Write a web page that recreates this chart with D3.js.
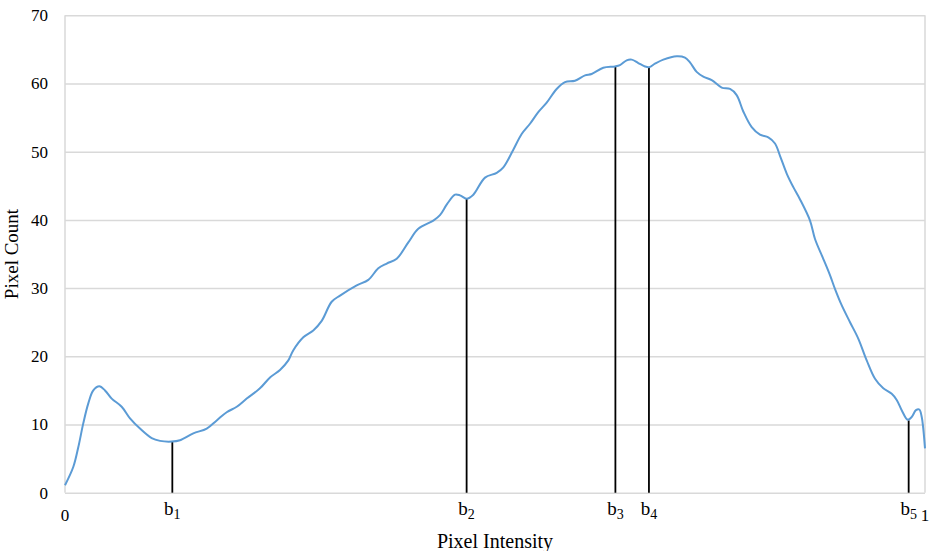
<!DOCTYPE html>
<html>
<head>
<meta charset="utf-8">
<script src="https://cdn.jsdelivr.net/npm/d3@7"></script>
<style>
  body { margin: 0; background: #fff; }
  text { font-family: "Liberation Serif", "Times New Roman", serif; fill: #000; }
</style>
</head>
<body>
<svg id="chart" width="932" height="551"></svg>
<script>
// histogram curve (intensity 0..1, count)
const intensity = [0, 0.0097, 0.0155, 0.0213, 0.0271, 0.0329, 0.0399, 0.0465, 0.0543, 0.0659,
  0.0756, 0.0872, 0.1008, 0.1105, 0.1241, 0.1337, 0.1492, 0.1648, 0.1764, 0.1880,
  0.1997, 0.2113, 0.2267, 0.2384, 0.2500, 0.2597, 0.2655, 0.2771, 0.2887, 0.2985,
  0.3101, 0.3198, 0.3392, 0.3527, 0.3643, 0.3741, 0.3857, 0.3992, 0.4108, 0.4283,
  0.4360, 0.4442, 0.4535, 0.4593, 0.4671, 0.4748, 0.4884, 0.5020, 0.5097, 0.5213,
  0.5310, 0.5407, 0.5503, 0.5601, 0.5717, 0.5814, 0.5930, 0.6047, 0.6124, 0.6259,
  0.6395, 0.6453, 0.6531, 0.6590, 0.6666, 0.6744, 0.6794, 0.6860, 0.6957, 0.7113,
  0.7209, 0.7267, 0.7345, 0.7422, 0.7520, 0.7636, 0.7733, 0.7810, 0.7887, 0.7985,
  0.8081, 0.8178, 0.8256, 0.8314, 0.8392, 0.8469, 0.8547, 0.8663, 0.8721, 0.8817,
  0.8895, 0.8953, 0.9031, 0.9128, 0.9224, 0.9322, 0.9419, 0.9515, 0.9613, 0.9671,
  0.9729, 0.9799, 0.9845, 0.9895, 0.9934, 0.9962, 0.9980, 1.0];
const pixelCount = [1.1, 3.8, 6.7, 10.2, 13.1, 15.0, 15.6, 15.0, 13.8, 12.6,
  10.9, 9.4, 8.0, 7.6, 7.5, 7.7, 8.7, 9.4, 10.6, 11.8,
  12.6, 13.8, 15.3, 16.9, 18.0, 19.4, 20.9, 22.8, 23.8, 25.2,
  28.0, 28.9, 30.4, 31.2, 32.9, 33.6, 34.3, 36.7, 38.7, 39.9,
  40.7, 42.3, 43.7, 43.6, 43.1, 43.7, 46.2, 46.9, 47.7, 50.3,
  52.6, 54.1, 55.8, 57.2, 59.2, 60.2, 60.4, 61.2, 61.4, 62.3,
  62.5, 62.7, 63.4, 63.5, 63.0, 62.5, 62.4, 62.9, 63.5, 64.0,
  63.8, 63.1, 61.7, 61.0, 60.5, 59.4, 59.2, 58.3, 55.9, 53.6,
  52.5, 52.1, 51.2, 49.4, 46.8, 44.8, 43.0, 39.9, 37.2, 34.3,
  31.9, 29.9, 27.5, 25.0, 22.6, 19.4, 16.7, 15.3, 14.5, 13.6,
  12.1, 10.7, 11.1, 12.1, 12.2, 11.1, 9.4, 6.5];

// threshold markers b1..b5
const boundaryIndex = ["1", "2", "3", "4", "5"];
const boundaryX = [0.1248, 0.467, 0.640, 0.679, 0.981];
const boundaryCount = [7.5, 43.1, 62.5, 62.4, 10.6];

const yTicks = [0, 10, 20, 30, 40, 50, 60, 70];
const xTickValues = [0, 1];
const xTickLabels = ["0", "1"];

const margin = {top: 15.3, left: 65, right: 7, bottom: 58.3};
const width = 932 - margin.left - margin.right,
      height = 551 - margin.top - margin.bottom;

const svg = d3.select("#chart");
const g = svg.append("g").attr("transform", `translate(${margin.left},${margin.top})`);

const x = d3.scaleLinear().domain([0, 1]).range([0, width]);
const y = d3.scaleLinear().domain([0, 70]).range([height, 0]);

// gridlines + y labels
const yAxis = g.append("g")
  .call(d3.axisLeft(y).tickValues(yTicks).tickSize(-width).tickPadding(17).tickFormat(d3.format("d")));
yAxis.select(".domain").remove();
yAxis.selectAll(".tick line").attr("stroke", "#d9d9d9").attr("stroke-width", 1.5);
yAxis.selectAll(".tick text").style("font-size", "17px")
  .style("font-family", '"Liberation Serif", serif').attr("fill", "#000");

// left / right frame lines
g.append("line").attr("x1", 0).attr("x2", 0).attr("y1", 0).attr("y2", height)
  .attr("stroke", "#d9d9d9").attr("stroke-width", 1.5);
g.append("line").attr("x1", width).attr("x2", width).attr("y1", 0).attr("y2", height)
  .attr("stroke", "#d9d9d9").attr("stroke-width", 1.5);

// x labels 0 and 1
g.selectAll(".xlab")
  .data(xTickValues)
  .enter().append("text")
    .attr("x", d => x(d))
    .attr("y", height + 28.3)
    .attr("text-anchor", "middle")
    .style("font-size", "17px")
    .text((d, i) => xTickLabels[i]);

// boundary lines
g.selectAll(".bline")
  .data(boundaryX)
  .enter().append("line")
    .attr("x1", d => x(d)).attr("x2", d => x(d))
    .attr("y1", y(0))
    .attr("y2", (d, i) => y(boundaryCount[i]))
    .attr("stroke", "#000")
    .attr("stroke-width", 1.8);

// curve
const line = d3.line()
  .x((d, i) => x(intensity[i]))
  .y(d => y(d))
  .curve(d3.curveCatmullRom);

g.append("path")
  .datum(pixelCount)
  .attr("d", line)
  .attr("fill", "none")
  .attr("stroke", "#5b9bd5")
  .attr("stroke-width", 2);

// boundary labels b with subscript
const blab = g.selectAll(".blab")
  .data(boundaryX)
  .enter().append("text")
    .attr("x", d => x(d))
    .attr("y", height + 22.8)
    .attr("text-anchor", "middle")
    .style("font-size", "19px");
blab.append("tspan").text("b");
blab.append("tspan")
  .attr("dy", 4)
  .style("font-size", "14px")
  .text((d, i) => boundaryIndex[i]);

// axis titles
svg.append("text")
  .attr("x", 495)
  .attr("y", 548)
  .attr("text-anchor", "middle")
  .style("font-size", "20px")
  .text("Pixel Intensity");

svg.append("text")
  .attr("transform", `translate(18,${margin.top + height / 2}) rotate(-90)`)
  .attr("text-anchor", "middle")
  .style("font-size", "19px")
  .text("Pixel Count");
</script>
</body>
</html>
